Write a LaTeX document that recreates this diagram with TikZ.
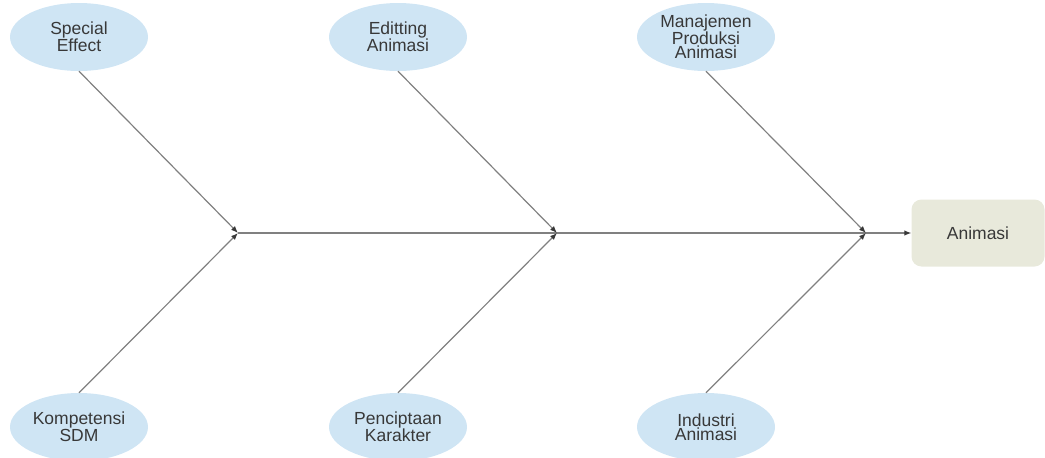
\documentclass[tikz,border=0pt]{standalone}
\usepackage{fontspec}
\setmainfont{Liberation Sans}
\usetikzlibrary{shapes.geometric,arrows.meta}
\definecolor{bubble}{HTML}{CFE5F4}
\definecolor{goalfill}{HTML}{E8E9DB}
\definecolor{bone}{HTML}{808080}
\definecolor{ink}{HTML}{383838}
\tikzset{
	cause/.style={ellipse, fill=bubble, minimum width=138, minimum height=68, inner sep=0pt,
		align=center, text=ink, font=\fontsize{17.5}{11.5}\selectfont},
	goal/.style={rounded corners=10pt, fill=goalfill, minimum width=133, minimum height=67,
		text=ink, font=\fontsize{17.5}{11.5}\selectfont},
	bonearrow/.style={draw=bone, line width=1.2pt, -{Latex[length=7pt,width=5.5pt,color=ink]}}
}

\begin{document}
\begin{tikzpicture}[x=1pt,y=-1pt]
	\useasboundingbox (0,0) rectangle (1045,458);
	% causes on top
	\node[cause] (spec) at (79,37){Special\\Effect};
	\node[cause] (edit) at (398,37){Editting\\Animasi};
	\node[cause] (mana) at (706,37){Manajemen\\Produksi\\Animasi};
	% causes below
	\node[cause] (komp) at (79,427){Kompetensi\\SDM};
	\node[cause] (penc) at (398,427){Penciptaan\\Karakter};
	\node[cause] (indu) at (706,427){Industri\\Animasi};
	% effect
	\node[goal] (anim) at (978,233){Animasi};
	% junctions on the spine
	\coordinate (j1) at (238,233);
	\coordinate (j2) at (557,233);
	\coordinate (j3) at (866,233);
	\draw[draw=bone, line width=1.2pt] (j1) -- (j3);
	\draw[bonearrow] (j3) -- (anim.west);
	\draw[bonearrow] (spec.south) -- (j1);
	\draw[bonearrow] (komp.north) -- (j1);
	\draw[bonearrow] (edit.south) -- (j2);
	\draw[bonearrow] (penc.north) -- (j2);
	\draw[bonearrow] (mana.south) -- (j3);
	\draw[bonearrow] (indu.north) -- (j3);
\end{tikzpicture}
\end{document}
